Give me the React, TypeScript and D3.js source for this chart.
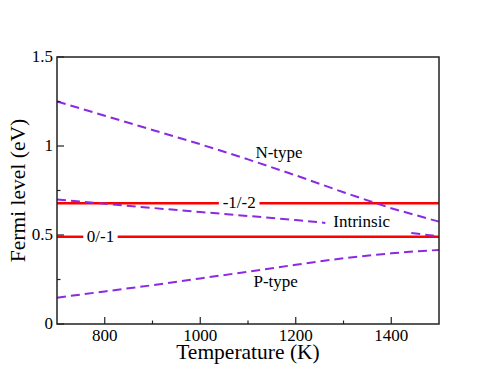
import React, { useEffect, useRef } from "react";
import * as d3 from "d3";

// readings taken from the figure
const nTypeT = [700, 800, 900, 1000, 1100, 1200, 1300, 1400, 1500];
const nTypeE = [1.25, 1.17, 1.09, 1.01, 0.925, 0.835, 0.74, 0.65, 0.575];

const pTypeT = [700, 800, 900, 1000, 1100, 1200, 1300, 1400, 1450, 1500];
const pTypeE = [0.148, 0.183, 0.218, 0.256, 0.294, 0.333, 0.37, 0.397, 0.408, 0.416];

// intrinsic curve is broken around its label
const intrinsicT1 = [700, 800, 900, 1000, 1100, 1200, 1262];
const intrinsicE1 = [0.7, 0.676, 0.652, 0.629, 0.607, 0.584, 0.568];
const intrinsicT2 = [1442, 1500];
const intrinsicE2 = [0.511, 0.493];

// transition levels, with the label gap in K
const levelNames = ["0/-1", "-1/-2"];
const levelE = [0.49, 0.678];
const levelGapStart = [755, 1039];
const levelGapEnd = [827, 1124];

const xTicks = [800, 1000, 1200, 1400];
const xMinor = [900, 1100, 1300];
const yTicks = [0, 0.5, 1, 1.5];
const yTickText = ["0", "0.5", "1", "1.5"];
const yMinor = [0.25, 0.75, 1.25];

const curveLabels = ["N-type", "Intrinsic", "P-type"];
const curveLabelT = [1165, 1338, 1158];
const curveLabelE = [0.935, 0.545, 0.21];

export default function App() {
  const svgRef = useRef<SVGSVGElement>(null);

  useEffect(() => {
    const W = 494;
    const H = 382;
    const M = { left: 57, right: 55, top: 57, bottom: 58 };
    const FONT = "Liberation Serif, Times New Roman, serif";

    const svg = d3.select(svgRef.current).attr("width", W).attr("height", H);
    svg.selectAll("*").remove();

    const x = d3.scaleLinear().domain([700, 1500]).range([M.left, W - M.right]);
    const y = d3.scaleLinear().domain([0, 1.5]).range([H - M.bottom, M.top]);

    const line = d3
      .line<[number, number]>()
      .x((d) => x(d[0]))
      .y((d) => y(d[1]));

    const purple = "#8a2be2";
    const dashed = (tt: number[], ee: number[]) => {
      svg
        .append("path")
        .attr("d", line(tt.map((t, i) => [t, ee[i]])))
        .attr("fill", "none")
        .attr("stroke", purple)
        .attr("stroke-width", 2)
        .attr("stroke-dasharray", "9,5");
    };

    // red transition levels
    levelE.forEach((e, i) => {
      const segs: [number, number][][] = [
        [[700, e], [levelGapStart[i], e]],
        [[levelGapEnd[i], e], [1500, e]],
      ];
      segs.forEach((s) =>
        svg
          .append("path")
          .attr("d", line(s))
          .attr("fill", "none")
          .attr("stroke", "#ff0000")
          .attr("stroke-width", 2.5)
      );
      svg
        .append("text")
        .attr("x", (x(levelGapStart[i]) + x(levelGapEnd[i])) / 2)
        .attr("y", y(e) + 5)
        .attr("text-anchor", "middle")
        .attr("font-family", FONT)
        .attr("font-size", 17)
        .text(levelNames[i]);
    });

    dashed(nTypeT, nTypeE);
    dashed(pTypeT, pTypeE);
    dashed(intrinsicT1, intrinsicE1);
    dashed(intrinsicT2, intrinsicE2);

    curveLabels.forEach((lab, i) => {
      svg
        .append("text")
        .attr("x", x(curveLabelT[i]))
        .attr("y", y(curveLabelE[i]))
        .attr("text-anchor", "middle")
        .attr("font-family", FONT)
        .attr("font-size", 17)
        .text(lab);
    });

    // frame
    svg
      .append("rect")
      .attr("x", M.left)
      .attr("y", M.top)
      .attr("width", W - M.left - M.right)
      .attr("height", H - M.top - M.bottom)
      .attr("fill", "none")
      .attr("stroke", "#222")
      .attr("stroke-width", 1.5);

    // ticks pointing inward
    const yb = H - M.bottom;
    xTicks.forEach((t) => {
      svg.append("line").attr("x1", x(t)).attr("x2", x(t)).attr("y1", yb).attr("y2", yb - 7)
        .attr("stroke", "#222").attr("stroke-width", 1.2);
      svg.append("text").attr("x", x(t)).attr("y", yb + 16.5).attr("text-anchor", "middle")
        .attr("font-family", FONT).attr("font-size", 17).text(String(t));
    });
    xMinor.forEach((t) => {
      svg.append("line").attr("x1", x(t)).attr("x2", x(t)).attr("y1", yb).attr("y2", yb - 3.5)
        .attr("stroke", "#222").attr("stroke-width", 1.2);
    });
    yTicks.forEach((v, i) => {
      svg.append("line").attr("x1", M.left).attr("x2", M.left + 7).attr("y1", y(v)).attr("y2", y(v))
        .attr("stroke", "#222").attr("stroke-width", 1.2);
      svg.append("text").attr("x", M.left - 4).attr("y", y(v) + 5).attr("text-anchor", "end")
        .attr("font-family", FONT).attr("font-size", 17).text(yTickText[i]);
    });
    yMinor.forEach((v) => {
      svg.append("line").attr("x1", M.left).attr("x2", M.left + 3.5).attr("y1", y(v)).attr("y2", y(v))
        .attr("stroke", "#222").attr("stroke-width", 1.2);
    });

    // axis titles
    svg
      .append("text")
      .attr("x", (M.left + W - M.right) / 2)
      .attr("y", 359)
      .attr("text-anchor", "middle")
      .attr("font-family", FONT)
      .attr("font-size", 21.5)
      .text("Temperature (K)");
    svg
      .append("text")
      .attr("transform", `translate(25, ${(M.top + H - M.bottom) / 2}) rotate(-90)`)
      .attr("text-anchor", "middle")
      .attr("font-family", FONT)
      .attr("font-size", 21.5)
      .text("Fermi level (eV)");
  }, []);

  return (
    <svg
      ref={svgRef}
      style={{ position: "absolute", left: 0, top: 0, background: "#fff" }}
    ></svg>
  );
}
